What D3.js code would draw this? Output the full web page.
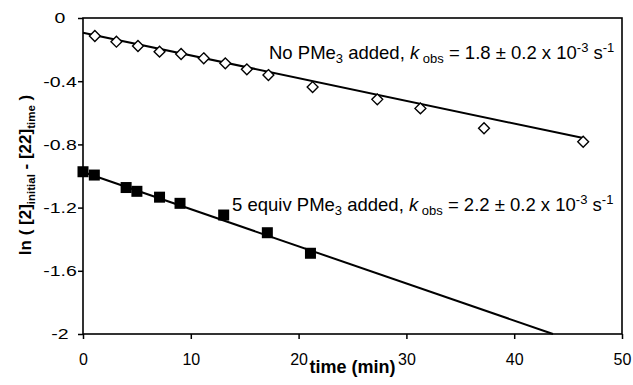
<!DOCTYPE html>
<html lang="en">
  <head>
    <meta charset="UTF-8" />
    <title>ln plot</title>
    <script src="https://cdn.jsdelivr.net/npm/d3@7/dist/d3.min.js"></script>
    <style>
      body { margin: 0; background: #fff; }
      text { font-family: "Liberation Sans", Arial, sans-serif; fill: #000; }
    </style>
  </head>
  <body>
    <script>
      // no PMe3 (open diamonds)
      const noTime = [1.1, 3.1, 5.1, 7.1, 9.1, 11.2, 13.2, 15.2, 17.2, 21.3, 27.3, 31.3, 37.2, 46.4];
      const noVal = [-0.114, -0.15, -0.177, -0.213, -0.228, -0.255, -0.287, -0.325, -0.361, -0.437, -0.515, -0.572, -0.698, -0.783];
      const noFit = [[0, -0.093], [46.4, -0.76]];

      // 5 equiv PMe3 (filled squares)
      const pTime = [0, 1.05, 4.0, 5.0, 7.1, 9.0, 13.05, 17.1, 21.1];
      const pVal = [-0.973, -0.994, -1.073, -1.097, -1.134, -1.173, -1.247, -1.359, -1.489];
      const pFit = [[0, -0.975], [43.6, -2]];

      const xTicks = [0, 10, 20, 30, 40, 50];
      const yTicks = [0, -0.4, -0.8, -1.2, -1.6, -2];
      const yTickLabels = ["0", "-0.4", "-0.8", "-1.2", "-1.6", "-2"];

      const width = 633, height = 385;
      const svg = d3.select("body").append("svg")
        .attr("width", width)
        .attr("height", height);

      const x = d3.scaleLinear().domain([0, 50]).range([83, 622]);
      const y = d3.scaleLinear().domain([-2, 0]).range([334, 18]);

      // frame
      svg.append("rect")
        .attr("x", x(0)).attr("y", y(0))
        .attr("width", x(50) - x(0)).attr("height", y(-2) - y(0))
        .attr("fill", "none").attr("stroke", "#000").attr("stroke-width", 1.6);

      // y axis
      const yAxis = svg.append("g")
        .attr("transform", `translate(${x(0)},0)`)
        .call(d3.axisLeft(y).tickValues(yTicks).tickSize(5)
          .tickFormat((d, i) => yTickLabels[i]));
      yAxis.select(".domain").remove();
      yAxis.selectAll("line").attr("stroke-width", 1.5);
      yAxis.selectAll("text")
        .attr("x", 0)
        .attr("text-anchor", "middle")
        .attr("font-size", 15)
        .attr("transform", "translate(-23,0) scale(1.3,1)");

      // x axis
      const xAxis = svg.append("g")
        .attr("transform", `translate(0,${y(-2)})`)
        .call(d3.axisBottom(x).tickValues(xTicks).tickSize(5));
      xAxis.select(".domain").remove();
      xAxis.selectAll("line").attr("stroke-width", 1.5);
      xAxis.selectAll("text").attr("font-size", 16).attr("y", 31).attr("dy", 0);

      // fit lines
      const line = d3.line().x(d => x(d[0])).y(d => y(d[1]));
      [noFit, pFit].forEach(f => {
        svg.append("path").datum(f)
          .attr("d", line)
          .attr("fill", "none").attr("stroke", "#000").attr("stroke-width", 2);
      });

      // diamonds
      const dia = d3.symbol().type(d3.symbolDiamond2).size(75);
      svg.selectAll(".dia").data(d3.zip(noTime, noVal)).enter()
        .append("path")
        .attr("transform", d => `translate(${x(d[0])},${y(d[1])})`)
        .attr("d", dia)
        .attr("fill", "#fff").attr("stroke", "#000").attr("stroke-width", 1.4);

      // squares
      const sq = 11;
      svg.selectAll(".sq").data(d3.zip(pTime, pVal)).enter()
        .append("rect")
        .attr("x", d => x(d[0]) - sq / 2).attr("y", d => y(d[1]) - sq / 2)
        .attr("width", sq).attr("height", sq)
        .attr("fill", "#000");

      // annotations
      function note(tx, ty, lead, k) {
        const fs = 18.5, sm = 13;
        const t = svg.append("text").attr("x", tx).attr("y", ty).attr("font-size", fs);
        t.append("tspan").text(lead + " PMe");
        t.append("tspan").text("3").attr("font-size", sm).attr("dy", 4);
        t.append("tspan").text(" added, ").attr("dy", -4);
        t.append("tspan").text("k").attr("font-style", "italic");
        t.append("tspan").text(" obs").attr("font-size", sm).attr("dy", 4);
        t.append("tspan").text(" = " + k + " \u00b1 0.2 x 10").attr("dy", -4);
        t.append("tspan").text("-3").attr("font-size", sm).attr("dy", -7);
        t.append("tspan").text(" s").attr("dy", 7);
        t.append("tspan").text("-1").attr("font-size", sm).attr("dy", -7);
      }
      note(269, 59, "No", "1.8");
      note(232, 211, "5 equiv", "2.2");

      // axis titles
      svg.append("text")
        .attr("x", 352.5).attr("y", 373)
        .attr("text-anchor", "middle").attr("font-size", 18).attr("font-weight", "bold")
        .text("time (min)");

      const yt = svg.append("text")
        .attr("transform", "translate(31,175) rotate(-90)")
        .attr("text-anchor", "middle").attr("font-size", 17).attr("font-weight", "bold");
      yt.append("tspan").text("ln ( [2]");
      yt.append("tspan").text("initial").attr("font-size", 11.5).attr("dy", 4);
      yt.append("tspan").text(" - [22]").attr("dy", -4);
      yt.append("tspan").text("time").attr("font-size", 11.5).attr("dy", 4);
      yt.append("tspan").text(" )").attr("dy", -4);
    </script>
  </body>
</html>
